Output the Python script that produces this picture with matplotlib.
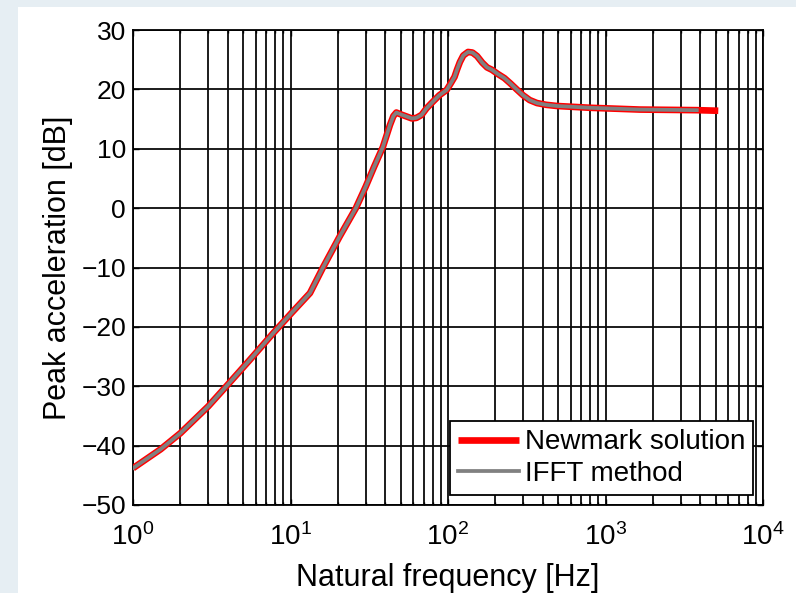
import math
import matplotlib.pyplot as plt
from matplotlib.patches import Rectangle
from matplotlib.ticker import LogLocator, NullFormatter, FuncFormatter

plt.rcParams['font.family'] = ['Liberation Sans', 'DejaVu Sans']
plt.rcParams['mathtext.default'] = 'regular'

# values
freq = [1, 1.5, 2, 3, 4.1, 5.5, 7.8, 10.2, 13.3, 16, 20.5, 26, 30, 34, 38.6,
        42.8, 45, 47, 50, 55, 59, 63, 68, 73, 80, 88, 98, 104, 110, 114,
        119, 125, 134, 143, 153, 165, 177, 190, 207, 228, 249, 273, 300,
        330, 367, 420, 493, 800, 1650, 3800, 5200]
newmark = [-43.8, -40.6, -37.9, -33.4, -29.4, -25.6, -21.0, -17.6, -14.3,
           -10.1, -4.8, 0.0, 3.6, 7.0, 10.3, 14.0, 15.5, 16.1, 15.8, 15.4,
           15.1, 15.2, 15.7, 16.8, 17.9, 19.0, 19.9, 21.0, 22.1, 23.3, 24.6,
           25.7, 26.3, 26.2, 25.6, 24.5, 23.7, 23.3, 22.6, 21.9, 21.0, 20.0,
           19.0, 18.2, 17.7, 17.4, 17.2, 16.9, 16.6, 16.5, 16.4]
ifft_freq = freq[:-1]
ifft = newmark[:-1]

yticks = [-50, -40, -30, -20, -10, 0, 10, 20, 30]

fig = plt.figure(figsize=(7.96, 5.93), dpi=100, facecolor='#e6eef3')
# white panel behind the chart
fig.patches.append(Rectangle((18 / 796, 0), 1, 1 - 7 / 593, transform=fig.transFigure,
                             facecolor='white', edgecolor='none', zorder=-5))

ax = fig.add_axes([133 / 796, 1 - 505 / 593, 630 / 796, 475 / 593])
ax.set_zorder(2)
ax.set_facecolor('white')

ax.semilogx(freq, newmark, color='#ff0000', lw=4.8, label='Newmark solution',
            solid_capstyle='butt', solid_joinstyle='round', zorder=3)
ax.semilogx(ifft_freq, ifft, color='#808080', lw=2.7, label='IFFT method',
            solid_joinstyle='round', zorder=4)

ax.set_xlim(1, 1e4)
ax.set_ylim(-50, 30)
ax.set_yticks(yticks)
ax.xaxis.set_major_locator(LogLocator(base=10, numticks=10))
ax.xaxis.set_major_formatter(FuncFormatter(lambda v, p: r'$10^{%d}$' % round(math.log10(v))))
ax.xaxis.set_minor_locator(LogLocator(base=10, subs=range(2, 10), numticks=50))
ax.xaxis.set_minor_formatter(NullFormatter())

ax.grid(True, which='major', color='#0a0a0a', lw=1.3, ls='-')
ax.grid(True, which='minor', axis='x', color='#0a0a0a', lw=1.3, ls='-')
ax.set_axisbelow(True)

ax.tick_params(which='both', direction='in', top=True, right=True,
               labelsize=19, width=1.0, pad=5, colors='black')
ax.tick_params(axis='x', which='major', labelsize=20, pad=13)
ax.tick_params(which='major', length=4)
ax.tick_params(which='minor', length=2)
for s in ax.spines.values():
    s.set_linewidth(1.3)

ax.set_xlabel('Natural frequency [Hz]', fontsize=22, labelpad=9)
ax.set_ylabel('Peak acceleration [dB]', fontsize=22, labelpad=6)

leg = ax.legend(loc='lower right', fontsize=20, frameon=True, fancybox=False,
                borderaxespad=0.35, handlelength=2.2, handletextpad=0.2,
                borderpad=0.3, labelspacing=0.2)
leg.get_frame().set_edgecolor('black')
leg.get_frame().set_linewidth(1.3)
leg.get_frame().set_alpha(1)

fig.savefig('out.png', dpi=100, facecolor=fig.get_facecolor())
